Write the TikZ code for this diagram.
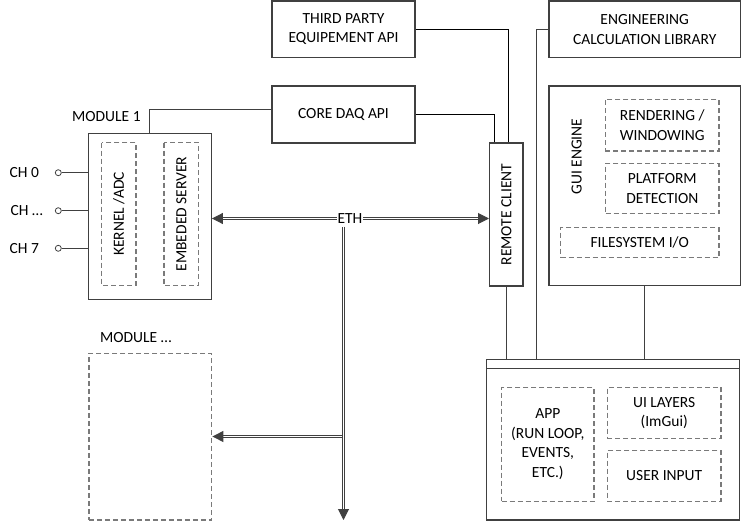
\documentclass[tikz,border=0pt]{standalone}
\usepackage{fontspec}
\setmainfont{Carlito}
\usetikzlibrary{arrows.meta}
\definecolor{boxc}{HTML}{404040}
\definecolor{dashc}{HTML}{7A7A7A}
\definecolor{linec}{HTML}{404040}
\tikzset{
  solidbox/.style={draw=boxc, line width=1.3pt, inner sep=0pt, align=center},
  dashbox/.style={draw=dashc, line width=1.5pt, dash pattern=on 5pt off 3pt, inner sep=0pt, align=center},
  conn/.style={draw=linec, line width=1pt},
  ethline/.style={draw=black!75, line width=1pt, double=white, double distance=1pt},
  ethtip/.style={-{Triangle[length=11pt,width=11pt]}},
  ethtips/.style={{Triangle[length=11pt,width=11pt]}-{Triangle[length=11pt,width=11pt]}},
  chan/.style={circle, draw=boxc, line width=0.8pt, fill=white, minimum size=6pt, inner sep=0pt},
  lbl/.style={inner sep=0pt, anchor=west},
}
\begin{document}
\begin{tikzpicture}[x=1pt,y=-1pt, font=\fontsize{15.5}{19.5}\selectfont]
\useasboundingbox (0,0) rectangle (742,522);

% top boxes
\node[solidbox, minimum width=143pt, minimum height=56.7pt] (tp) at (343.5,29.3) {THIRD PARTY\\EQUIPEMENT API};
\node[solidbox, minimum width=143pt, minimum height=57pt] (core) at (343.5,114.5) {CORE DAQ API};
\node[solidbox, minimum width=191.5pt, minimum height=56.7pt] (eng) at (644.7,29.3) {ENGINEERING\\CALCULATION LIBRARY};

% GUI engine
\node[solidbox, minimum width=191.5pt, minimum height=199.3pt] (gui) at (644.7,185.7) {};
\node[dashbox, minimum width=113.7pt, minimum height=51.7pt] (rend) at (662.2,125.2) {RENDERING /\\WINDOWING};
\node[dashbox, minimum width=113.3pt, minimum height=50pt] (plat) at (662.3,188.3) {PLATFORM\\DETECTION};
\node[dashbox, minimum width=158.3pt, minimum height=30pt] (fs) at (639.8,242.3) {FILESYSTEM I/O};
\node[inner sep=0pt, rotate=90] (guil) at (576.7,156.7) {GUI ENGINE};

% remote client
\node[solidbox, minimum width=143pt, minimum height=33.3pt, rotate=90] (rc) at (506.3,214.5) {REMOTE CLIENT};

% module 1
\node[solidbox, minimum width=123pt, minimum height=166pt] (m1) at (149.8,216.3) {};
\node[dashbox, minimum width=142.6pt, minimum height=34.3pt, rotate=90] (kern) at (118.8,214) {KERNEL /ADC};
\node[dashbox, minimum width=142.6pt, minimum height=34.7pt, rotate=90] (emb) at (181.3,214) {EMBEDED SERVER};
\node[lbl] (m1l) at (72,117) {MODULE 1};

% channels
\node[chan] (c0) at (58.3,172.7) {};
\node[chan] (c1) at (58.3,210.7) {};
\node[chan] (c2) at (58.3,248.3) {};
\node[lbl] (c0l) at (9.5,172.7) {CH 0};
\node[lbl] (c1l) at (10.5,210.7) {CH \dots};
\node[lbl] (c2l) at (9.5,248.3) {CH 7};
\draw[conn] (c0) -- (c0 -| m1.west);
\draw[conn] (c1) -- (c1 -| m1.west);
\draw[conn] (c2) -- (c2 -| m1.west);

% module ...
\node[dashbox, minimum width=122.7pt, minimum height=166.7pt] (mdots) at (150.3,436.7) {};
\node[lbl] (mdl) at (100,338) {MODULE \dots};

% app
\node[solidbox, minimum width=252.6pt, minimum height=160.7pt] (app) at (613,439.7) {};
\draw[draw=boxc, line width=1.3pt] ([yshift=-10pt]app.north west) -- ([yshift=-10pt]app.north east);
\node[dashbox, minimum width=92.3pt, minimum height=114pt] (appin) at (547.8,444.3) {APP\\(RUN LOOP,\\EVENTS,\\ETC.)};
\node[dashbox, minimum width=113.7pt, minimum height=51.4pt] (uil) at (664.2,413) {UI LAYERS\\(ImGui)};
\node[dashbox, minimum width=113.7pt, minimum height=50.6pt] (uin) at (664.2,476) {USER INPUT};

% connectors
\draw[conn] (m1.north) |- ([yshift=5pt]core.west);
\draw[conn, draw=black, line width=0.8pt] (tp.east) -| ([xshift=2.4pt]rc.east);
\draw[conn, draw=black, line width=0.8pt] (core.east) -| ([xshift=-11.6pt]rc.east);
\coordinate (engx) at (536,0);
\draw[conn] (eng.west) -| (engx |- app.north);
\draw[conn] (gui.south) -- (gui.south |- app.north);
\draw[conn] (rc.west) -- (rc.west |- app.north);

% ETH
\coordinate (ethc) at (350,218.5);
\draw[ethline, ethtips] (m1.east |- ethc) -- (rc.north |- ethc);
\node[fill=white, inner sep=1pt] (eth) at (ethc) {ETH};
\coordinate (vtop) at (343.5,226.5);
\coordinate (vbr) at (342,436.5);
\coordinate (vbot) at (343.5,520);
\draw[ethline, ethtip] (vtop) -- (vbot);
\draw[ethline, ethtip] (vbr) -- (mdots.east |- vbr);
\end{tikzpicture}
\end{document}
